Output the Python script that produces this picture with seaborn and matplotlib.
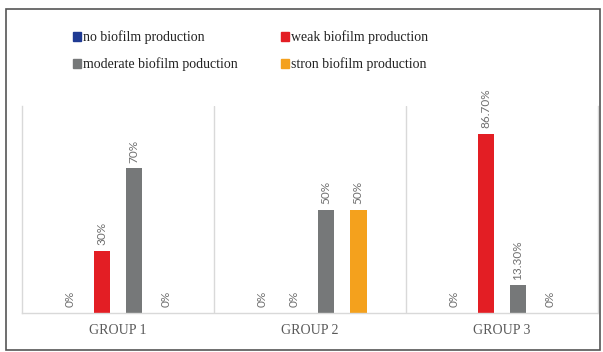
import matplotlib
matplotlib.use("Agg")
import matplotlib.pyplot as plt
import seaborn as sns
import pandas as pd
from matplotlib.patches import Rectangle, Patch

groups = ["GROUP 1", "GROUP 2", "GROUP 3"]
levels = ["no biofilm production", "weak biofilm production",
          "moderate biofilm poduction", "stron biofilm production"]
values = {
    "no biofilm production": [0, 0, 0],
    "weak biofilm production": [30, 0, 86.7],
    "moderate biofilm poduction": [70, 50, 13.3],
    "stron biofilm production": [0, 50, 0],
}
labels = {
    "no biofilm production": ["0%", "0%", "0%"],
    "weak biofilm production": ["30%", "0%", "86.70%"],
    "moderate biofilm poduction": ["70%", "50%", "13.30%"],
    "stron biofilm production": ["0%", "50%", "0%"],
}
colors = ["#1F3A93", "#E31E24", "#767879", "#F4A11D"]

rows = []
for lev in levels:
    for g, v in zip(groups, values[lev]):
        rows.append({"group": g, "level": lev, "value": v})
df = pd.DataFrame(rows)

sns.set_style("white")
fig = plt.figure(figsize=(6.03, 3.52), dpi=100)
ax = fig.add_axes([22 / 603, 1 - 313 / 352, 576 / 603, 207 / 352])

sns.barplot(data=df, x="group", y="value", hue="level", hue_order=levels,
            palette=colors, saturation=1, width=0.667, gap=0.47, ax=ax,
            legend=False, edgecolor="none", linewidth=0)

for cont, lev in zip(ax.containers, levels):
    ax.bar_label(cont, labels=labels[lev], rotation=90, padding=4,
                 fontsize=8.5, color="#707070", family="Lato")

ax.set_ylim(0, 100)
ax.set_xlim(-0.5, 2.5)
ax.set_yticks([])
ax.set_xlabel("")
ax.set_ylabel("")
for x in [0.5, 1.5]:
    ax.axvline(x, color="#D9D9D9", lw=1)
for s in ["left", "right", "bottom"]:
    ax.spines[s].set_color("#D9D9D9")
    ax.spines[s].set_linewidth(1)
ax.spines["top"].set_visible(False)
ax.tick_params(axis="x", length=0, pad=8)
for t in ax.get_xticklabels():
    t.set_family("Liberation Serif")
    t.set_fontsize(10)
    t.set_color("#595959")

handles = [Patch(color=c) for c in colors]
order = [0, 2, 1, 3]
fig.legend([handles[i] for i in order], [levels[i] for i in order], ncol=2,
           loc="upper left", bbox_to_anchor=(60 / 603, 1 - 18 / 352),
           frameon=False, prop={"family": "Liberation Serif", "size": 10},
           handlelength=0.6, handleheight=0.6, handletextpad=0.15,
           columnspacing=3.1, labelspacing=0.95, labelcolor="#222222")

fig.patches.append(Rectangle((6 / 603, 2 / 352), 594 / 603, 341 / 352,
                             transform=fig.transFigure, fill=False,
                             edgecolor="#555555", lw=1.2))

fig.savefig("out.png", dpi=100)
